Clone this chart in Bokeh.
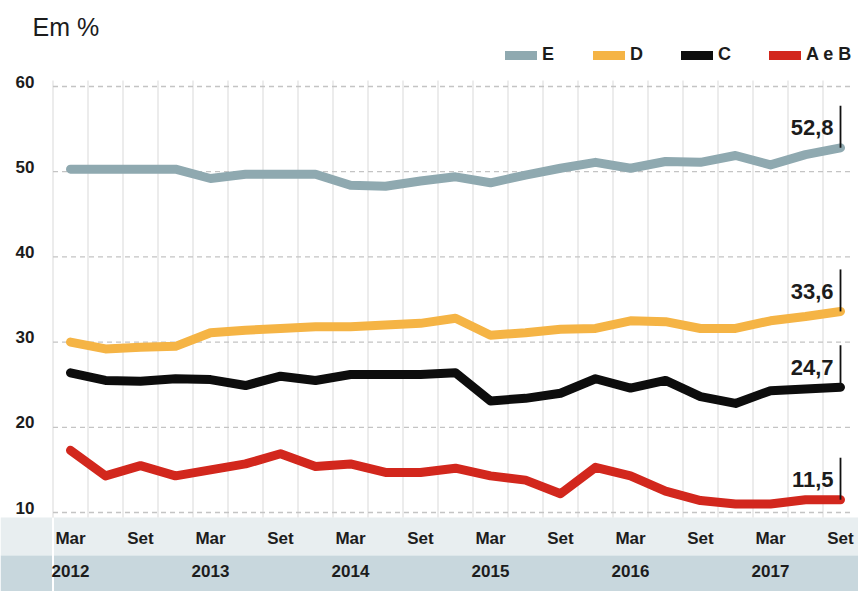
from bokeh.plotting import figure
from bokeh.models import Range1d, Legend, LegendItem
from bokeh.core.properties import value
from bokeh.embed import file_html
from bokeh.resources import INLINE

# ---------------- data ----------------
periods = ["Mar 2012", "Jun 2012", "Set 2012", "Dez 2012",
           "Mar 2013", "Jun 2013", "Set 2013", "Dez 2013",
           "Mar 2014", "Jun 2014", "Set 2014", "Dez 2014",
           "Mar 2015", "Jun 2015", "Set 2015", "Dez 2015",
           "Mar 2016", "Jun 2016", "Set 2016", "Dez 2016",
           "Mar 2017", "Jun 2017", "Set 2017"]
classe_E = [50.3, 50.3, 50.3, 50.3, 49.2, 49.7, 49.7, 49.7, 48.4, 48.3, 48.9, 49.4,
            48.7, 49.6, 50.4, 51.1, 50.4, 51.2, 51.1, 51.9, 50.8, 52.0, 52.8]
classe_D = [30.0, 29.2, 29.4, 29.5, 31.1, 31.4, 31.6, 31.8, 31.8, 32.0, 32.2, 32.8,
            30.8, 31.1, 31.5, 31.6, 32.5, 32.4, 31.6, 31.6, 32.5, 33.0, 33.6]
classe_C = [26.4, 25.5, 25.4, 25.7, 25.6, 24.9, 26.0, 25.5, 26.2, 26.2, 26.2, 26.4,
            23.1, 23.4, 24.0, 25.7, 24.6, 25.5, 23.6, 22.8, 24.3, 24.5, 24.7]
classe_AB = [17.3, 14.3, 15.5, 14.3, 15.0, 15.7, 16.9, 15.4, 15.7, 14.7, 14.7, 15.2,
             14.3, 13.8, 12.2, 15.3, 14.3, 12.5, 11.4, 11.0, 11.0, 11.5, 11.5]
series_names = ["E", "D", "C", "A e B"]
series_colors = ["#8fa9b0", "#f5b445", "#0d0d0d", "#d2271d"]
y_ticks = [10, 20, 30, 40, 50, 60]
month_labels = ["Mar", "Set"]
year_labels = ["2012", "2013", "2014", "2015", "2016", "2017"]

# ---------------- layout (pixels) ----------------
W, H = 858, 591
PXQ = 35.0          # px per quarter
PXU = 8.52          # px per percentage point
X0 = 70.0           # pixel x of first quarter
Y10 = 512.0         # pixel y of value 10

def fx(px):
    return (px - X0) / PXQ

def fy(py):
    return 10 + (Y10 - py) / PXU

x_start, x_end = fx(0), fx(W)
y_end, y_start = fy(0), fy(H)

FONT_NAME = "Liberation Sans"
FONT = value(FONT_NAME)
TXT = "#1c1c1c"

p = figure(width=W, height=H, x_range=Range1d(x_start, x_end), y_range=Range1d(y_start, y_end),
           x_axis_type=None, y_axis_type=None, output_backend="svg", toolbar_location=None,
           min_border=0, min_border_left=0, min_border_right=0, min_border_top=0, min_border_bottom=0)
p.outline_line_color = None
p.background_fill_color = "white"
p.border_fill_color = "white"

xs = list(range(len(periods)))

# bottom bands
band_top, band_mid = fy(517), fy(555)
p.quad(left=[x_start], right=[x_end], top=[band_top], bottom=[band_mid], fill_color="#e8eef0", line_color=None)
p.quad(left=[x_start], right=[x_end], top=[band_mid], bottom=[y_start], fill_color="#c8d7dd", line_color=None)
p.segment(x0=[-0.5], y0=[y_start], x1=[-0.5], y1=[band_top], line_color="white", line_width=2)

# grid
vx = [i - 0.5 for i in xs]
p.segment(x0=vx, y0=[band_top] * len(vx), x1=vx, y1=[fy(80)] * len(vx), line_color="#d9d9d9", line_width=1)
p.segment(x0=[-0.5] * len(y_ticks), y0=y_ticks, x1=[fx(851)] * len(y_ticks), y1=y_ticks,
          line_color="#c4c4c4", line_width=1.3, line_dash="5 4")

# y tick labels
p.text(x=[fx(15)] * len(y_ticks), y=y_ticks, text=[str(t) for t in y_ticks], text_font=FONT,
       text_font_size="17px", text_font_style="bold", text_color=TXT, text_align="left",
       text_baseline="alphabetic", y_offset=-5)

# x labels
mx = xs[0::2]
p.text(x=mx, y=[fy(538)] * len(mx), text=[month_labels[i % 2] for i in range(len(mx))], text_font=FONT,
       text_font_size="17px", text_font_style="bold", text_color=TXT, text_align="center",
       text_baseline="middle")
yx = xs[0::4]
p.text(x=yx, y=[fy(570)] * len(yx), text=year_labels, text_font=FONT,
       text_font_size="17px", text_font_style="bold", text_color=TXT, text_align="center",
       text_baseline="middle")

# title
p.text(x=[fx(32)], y=[fy(26)], text=["Em %"], text_font=FONT, text_font_size="25px",
       text_color=TXT, text_align="left", text_baseline="middle")

# lines
renderers = []
for name, col, vals in zip(series_names, series_colors, [classe_E, classe_D, classe_C, classe_AB]):
    r = p.line(xs, vals, line_color=col, line_width=9, line_cap="round", line_join="round")
    renderers.append(r)

# end labels
last_x = xs[-1]
ends = [classe_E[-1], classe_D[-1], classe_C[-1], classe_AB[-1]]
p.segment(x0=[last_x] * 4, y0=ends, x1=[last_x] * 4, y1=[v + 42 / PXU for v in ends],
          line_color="#111111", line_width=1.8)
p.text(x=[last_x] * 4, y=ends, text=[f"{v:.1f}".replace(".", ",") for v in ends], text_font=FONT,
       text_font_size="22px", text_font_style="bold", text_color=TXT, text_align="right",
       text_baseline="alphabetic", x_offset=-7, y_offset=-20)

legend = Legend(items=[LegendItem(label=n, renderers=[r]) for n, r in zip(series_names, renderers)],
                orientation="horizontal", location=(505, 526), glyph_width=32, glyph_height=16,
                label_standoff=5, spacing=31, padding=0, margin=0, border_line_color=None,
                background_fill_alpha=0, label_text_font=FONT_NAME, label_text_font_size="18px",
                label_text_font_style="bold", label_text_color=TXT)
p.add_layout(legend)

open("out.html", "w").write(file_html(p, INLINE))
